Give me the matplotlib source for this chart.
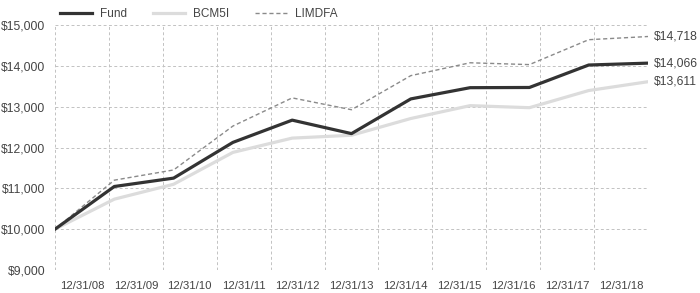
import numpy as np
import matplotlib.pyplot as plt

plt.rcParams["font.family"] = ["Liberation Sans", "DejaVu Sans"]

dates = ["12/31/08", "12/31/09", "12/31/10", "12/31/11", "12/31/12", "12/31/13",
         "12/31/14", "12/31/15", "12/31/16", "12/31/17", "12/31/18"]
fund = [10000, 11045, 11250, 12125, 12670, 12340, 13190, 13465, 13470, 14020, 14066]
bcm5i = [10000, 10735, 11100, 11880, 12230, 12300, 12710, 13025, 12975, 13395, 13611]
limdfa = [10000, 11200, 11450, 12525, 13215, 12925, 13760, 14075, 14030, 14640, 14718]

fig = plt.figure(figsize=(7, 2.93), dpi=100)
ax = fig.add_axes([55 / 700, 1 - 270 / 293, 593 / 700, 245 / 293])

# points spread over the full width, labels sit in the category bands
x = np.linspace(0, len(dates), len(dates))
ax.plot(x, fund, color="#333333", lw=2.3, label="Fund", zorder=4)
ax.plot(x, bcm5i, color="#dcdcdc", lw=2.3, label="BCM5I", zorder=3)
ax.plot(x, limdfa, color="#8a8a8a", lw=1.0, ls=(0, (3, 2)), label="LIMDFA", zorder=3)

ax.set_xlim(0, len(dates))
ax.set_ylim(9000, 15000)
ax.set_xticks(np.arange(len(dates) + 1))
ax.set_xticklabels([])
ax.set_xticks(np.arange(len(dates)) + 0.5, minor=True)
ax.set_xticklabels(dates, minor=True)
ax.set_yticks(np.arange(9000, 15001, 1000))
ax.set_yticklabels([f"${v:,.0f}" for v in np.arange(9000, 15001, 1000)])
ax.tick_params(which="both", length=0, labelcolor="#444444")
ax.tick_params(axis="x", which="minor", pad=8, labelsize=8.2)
ax.tick_params(axis="y", pad=7, labelsize=8.7)

ax.grid(True, which="major", color="#c2c2c2", ls=(0, (3, 2.5)), lw=0.7)
for s in ax.spines.values():
    s.set_visible(False)

for vals in (limdfa, fund, bcm5i):
    ax.annotate(f"${vals[-1]:,.0f}", (x[-1], vals[-1]), xytext=(4, 0),
                textcoords="offset points", va="center", ha="left",
                fontsize=8.7, color="#444444", annotation_clip=False)

ax.legend(loc="lower left", bbox_to_anchor=(0, 1.0), ncol=3, frameon=False,
          fontsize=8.5, labelcolor="#444444", handlelength=2.7, columnspacing=2.2,
          borderaxespad=0.4, borderpad=0, handletextpad=0.7)

fig.savefig("out.png", dpi=100)
